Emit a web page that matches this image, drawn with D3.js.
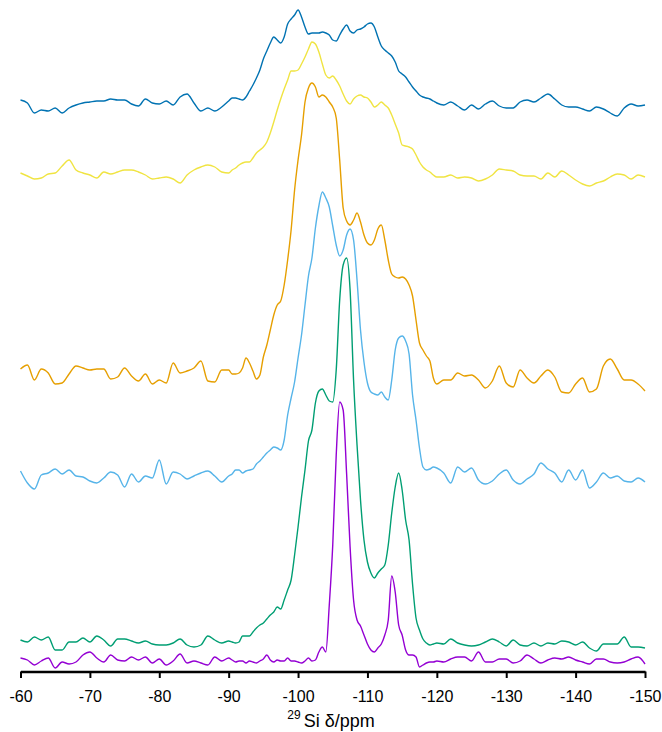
<!DOCTYPE html>
<html>
<head>
<meta charset="utf-8">
<script src="https://cdn.jsdelivr.net/npm/d3@7"></script>
<style>
  body { margin: 0; background: #ffffff; }
</style>
</head>
<body>
<div class="chartDiv"></div>
<script>
// chemical shift grid (ppm), finer through the peak region
var ppm = [-60,-61,-62,-63,-64,-65,-66,-67,-68,-69,-70,-71,-72,-73,-74,-75,-76,-77,-78,-79,-80,-81,-82,-83,-84,-85,-86,-87,-88,-89,-90,
  -90.5,-91,-91.5,-92,-92.5,-93,-93.5,-94,-94.5,-95,-95.5,-96,-96.5,-97,-97.5,-98,-98.5,-99,-99.5,-100,
  -100.5,-101,-101.5,-102,-102.5,-103,-103.5,-104,-104.5,-105,-105.5,-106,-106.5,-107,-107.5,-108,-108.5,-109,-109.5,-110,
  -110.5,-111,-111.5,-112,-112.5,-113,-113.5,-114,-114.5,-115,-115.5,-116,-116.5,-117,-117.5,-118,-118.5,-119,-119.5,-120,
  -121,-122,-123,-124,-125,-126,-127,-128,-129,-130,-131,-132,-133,-134,-135,-136,-137,-138,-139,-140,-141,-142,-143,-144,-145,-146,-147,-148,-149,-150];

// intensities (a.u.) above each spectrum's own baseline, bottom to top
var spec1 = [2,0,-5,-1,2,-8,-2,-4,-2,5,8,2,-2,5,0,-1,3,0,3,-3,1,-5,-1,6,-3,-1,-3,-5,3,-1,2,
  0,-2,-1,-1,-3,-1,-2,-3,-1,1,5,0,-2,0,-1,-1,2,-1,-1,-2,
  -3,-1,2,-1,0,8,13,8,55,115,205,258,250,186,113,60,40,34,25,16,
  10,8,12,16,25,40,84,68,35,25,10,5,5,3,-7,-5,-3,-2,-2,-1,
  -2,1,3,3,-1,8,-2,-2,1,1,-3,-1,5,1,-3,0,2,1,3,0,-2,-4,1,1,-2,-3,-2,1,3,-4];
var spec2 = [2,0,5,2,5,-8,-8,0,0,4,0,6,2,-4,3,3,1,-1,1,-2,-3,-3,-1,3,-3,-5,-3,6,2,-1,1,
  0,-1,0,6,6,6,10,14,17,19,23,27,30,35,33,42,52,62,87,115,
  145,172,201,212,239,251,253,247,241,240,272,342,377,384,352,262,197,142,102,80,
  69,64,69,73,77,97,129,155,169,152,122,102,58,24,12,3,-1,-3,-2,-1,
  -2,3,-1,-3,-4,-3,0,3,0,-4,2,-3,-4,-1,-4,-1,-2,1,0,-3,0,-6,-9,-2,-2,-2,5,-5,-5,-6];
var spec3 = [6,-6,-12,2,4,8,3,7,1,0,-4,-6,-1,5,2,-10,3,-5,1,-1,17,-7,5,3,-2,1,4,6,1,-5,1,
  3,7,7,4,6,7,8,13,16,20,24,27,30,29,27,37,62,79,95,119,
  142,172,201,219,249,271,285,279,270,251,232,221,227,242,248,237,197,147,115,94,
  85,83,82,85,80,77,97,127,139,141,136,123,82,57,29,10,7,8,10,9,
  4,-6,10,5,9,-3,-7,-4,3,7,-3,-7,-2,3,14,8,4,-5,7,-3,7,-11,-5,4,-1,1,-4,-5,-1,-5];
var spec4 = [1,5,-10,1,-3,-14,-13,-4,4,2,0,1,1,-9,-7,2,-6,-11,-4,-14,-10,-13,7,-3,-1,2,9,-11,-12,0,0,
  -4,-4,-3,2,12,7,-1,-9,-5,13,25,40,55,65,69,85,110,140,180,210,
  235,268,282,287,283,273,275,273,268,263,252,210,162,149,145,150,157,148,135,127,
  125,130,141,145,130,110,96,93,92,93,91,85,74,50,27,20,14,9,-8,-14,
  -10,-10,-3,-6,-5,-10,-18,-11,4,-13,-17,0,-8,-13,-6,0,-7,-22,-23,-14,-8,-22,-19,4,11,1,-10,-10,-14,-21];
var spec5 = [2,-1,-4,-3,1,2,9,15,5,2,0,-3,3,1,3,5,5,3,0,-4,-3,-2,-4,-8,0,5,8,10,8,3,2,
  5,7,10,12,13,13,17,22,25,28,33,42,53,65,76,86,95,104,104,105,
  111,118,126,133,131,123,111,100,97,99,95,89,81,74,71,76,79,80,78,77,
  73,68,70,73,70,67,60,51,42,30,29,28,26,20,13,8,5,3,0,-2,
  -2,0,-3,-2,-3,-6,-4,0,6,5,4,0,-1,-1,-4,2,-2,4,0,-5,-9,-11,-8,-6,-2,1,0,-4,0,-2];
var spec6 = [5,2,-8,-5,-6,-3,-8,-3,0,2,3,4,4,6,5,5,1,-1,6,2,1,4,0,8,11,2,-6,-3,-6,-2,4,
  7,7,6,5,8,14,20,27,35,46,54,62,68,65,62,68,81,86,90,95,
  88,78,71,72,72,72,73,72,70,65,64,70,76,80,74,72,75,76,78,81,
  82,78,68,59,55,52,49,43,34,31,28,23,18,14,10,8,7,6,4,2,
  0,3,-1,-5,0,-4,1,4,-1,-3,-3,3,5,3,7,11,6,0,-2,-2,-4,-6,-2,-4,-8,-11,-3,1,-1,0];

var spectra  = [spec1, spec2, spec3, spec4, spec5, spec6];
var offsets  = [13, 31, 196, 303, 498, 568];
var colours  = ["#9400D3", "#009E73", "#56B4E9", "#E69F00", "#F0E442", "#0072B2"];
var tickVals = [-60, -70, -80, -90, -100, -110, -120, -130, -140, -150];

var width = 662, height = 732,
    font  = "'Liberation Sans', Arial, sans-serif";

var svg = d3.select(".chartDiv")
  .append("svg")
  .attr("width", width)
  .attr("height", height);

var x = d3.scaleLinear().domain([-60, -150]).range([20.5, 645]);
var y = d3.scaleLinear().domain([0, 673]).range([673, 0]);

//draw the stacked spectra, first one at the bottom
spectra.forEach(function(spec, k){
  var line = d3.line()
    .x(function(d, i){ return x(ppm[i]); })
    .y(function(d){ return y(d + offsets[k]); })
    .curve(d3.curveMonotoneX);
  svg.append("path")
    .datum(spec)
    .attr("d", line)
    .attr("fill", "none")
    .attr("stroke", colours[k])
    .attr("stroke-width", 1.4)
    .attr("stroke-linejoin", "round");
});

// x axis
var axis = svg.append("g")
  .attr("transform", "translate(0,671.5)")
  .call(d3.axisBottom(x)
    .tickValues(tickVals)
    .tickSize(6.5)
    .tickSizeOuter(0)
    .tickPadding(13)
    .tickFormat(function(d){ return String(d); }));
axis.select(".domain").attr("stroke", "#000").attr("stroke-width", 2.5);
axis.selectAll(".tick line").attr("stroke", "#000").attr("stroke-width", 2);
axis.selectAll(".tick text")
  .attr("fill", "#000")
  .style("font-family", font)
  .style("font-size", "16px");

var title = svg.append("text")
  .attr("x", 331)
  .attr("y", 727)
  .attr("text-anchor", "middle")
  .attr("fill", "#000")
  .style("font-family", font)
  .style("font-size", "18px");
title.append("tspan").text("29").style("font-size", "12px").attr("dy", -8);
title.append("tspan").text("Si δ/ppm").attr("dx", 3).attr("dy", 8);
</script>
</body>
</html>
